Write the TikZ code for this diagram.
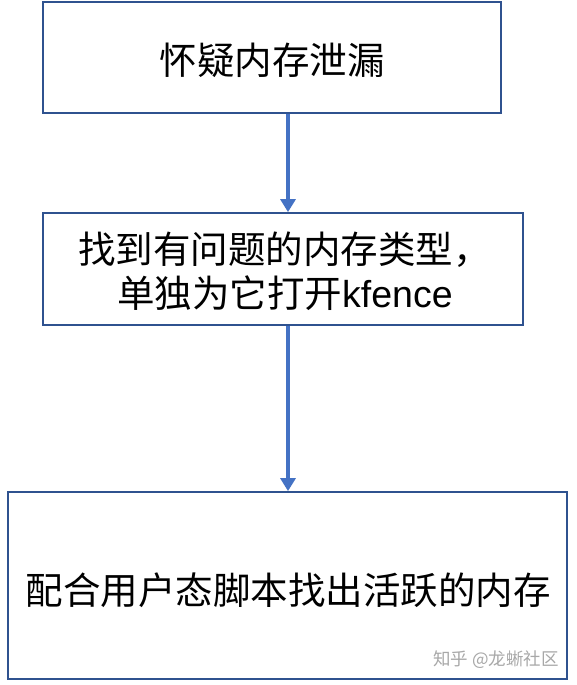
\documentclass[tikz,border=0pt]{standalone}
\usepackage{fontspec}
\setmainfont{Noto Sans CJK SC}
\newfontfamily\latinfont{Liberation Sans}
\usetikzlibrary{arrows.meta}
\definecolor{boxline}{HTML}{2F528F}
\definecolor{arrowblue}{HTML}{4472C4}
\definecolor{wmgrey}{HTML}{A8A8A8}
\begin{document}
\begin{tikzpicture}[x=1pt,y=-1pt,
  flowbox/.style={draw=boxline,line width=1.8pt,fill=white,rectangle,inner sep=0pt},
  bigtext/.style={inner sep=0pt,font=\fontsize{37.5}{44}\selectfont},
  flowarrow/.style={draw=arrowblue,line width=3.5pt,-{Triangle[width=15pt,length=13pt]}}]
\useasboundingbox[fill=white] (0,0) rectangle (577,685);
\node[flowbox,minimum width=458pt,minimum height=111pt] (box1) at (272,57.5) {};
\node[flowbox,minimum width=480pt,minimum height=112pt] (box2) at (283,269) {};
\node[flowbox,minimum width=559pt,minimum height=187pt] (box3) at (287.5,585.5) {};
\node[bigtext] (t1) at (272,60) {怀疑内存泄漏};
\node[bigtext,anchor=west] (t2a) at (78,250) {找到有问题的内存类型，};
\node[bigtext,anchor=west] (t2b) at (117,293) {单独为它打开{\latinfont kfence}};
\node[bigtext] (t3) at (288,590) {配合用户态脚本找出活跃的内存};
\node[inner sep=0pt,text=wmgrey,font=\fontsize{17.5}{20}\selectfont,anchor=east] (wm) at (559,660) {知乎 @龙蜥社区};
\coordinate (ax) at (288,0);
\draw[flowarrow] (box1.south -| ax) -- (box2.north -| ax);
\draw[flowarrow] (box2.south -| ax) -- (box3.north -| ax);
\end{tikzpicture}
\end{document}
